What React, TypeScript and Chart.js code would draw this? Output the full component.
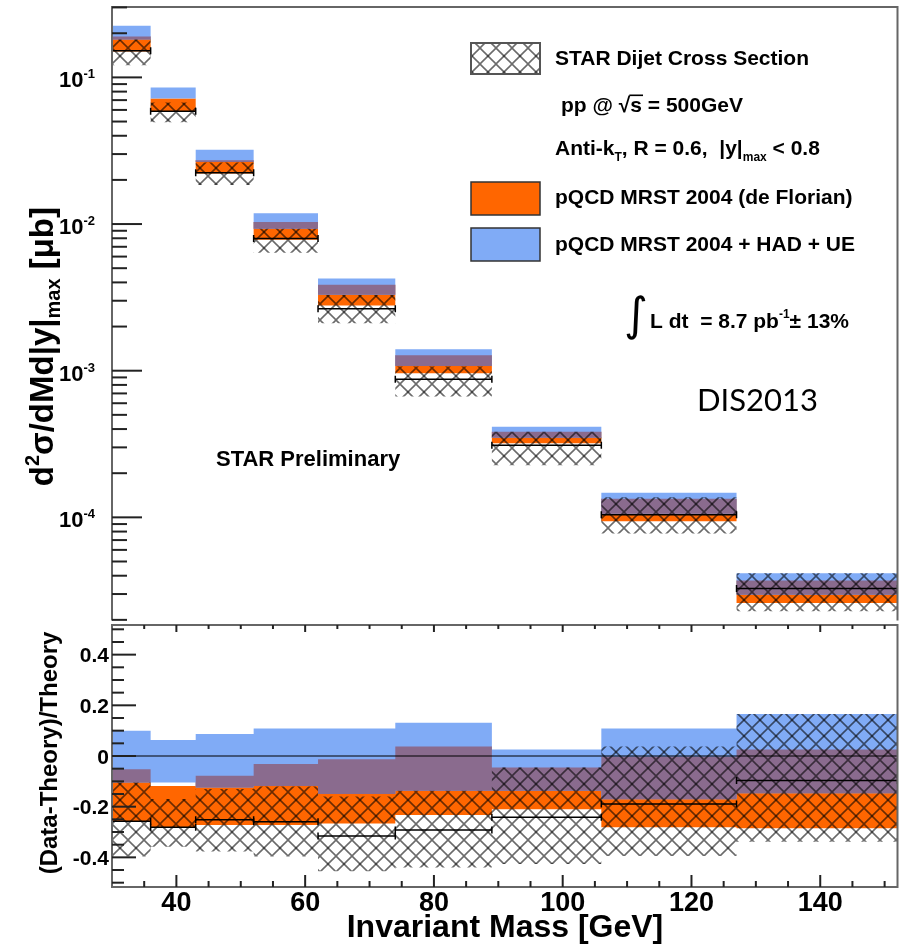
import React, { useEffect, useRef } from 'react';
import { Chart, registerables } from 'chart.js';

Chart.register(...registerables);

// ---------------- data ----------------
const binEdges = [30, 36, 43, 52, 62, 74, 89, 106, 127, 152];

// upper panel: d2sigma/dM d|y|max [ub]
const xsecData = [0.152, 0.0588, 0.0224, 0.00796, 0.00264, 0.000873, 0.00031, 0.0001042, 0.0000327];
const xsecSysLow = [0.121, 0.0494, 0.01845, 0.00637, 0.00211, 0.000667, 0.000227, 0.0000777, 0.0000229];
const xsecSysHigh = [0.181, 0.0674, 0.0263, 0.0093, 0.00328, 0.00107, 0.000383, 0.000137, 0.0000416];
const pqcdLow = [0.15, 0.0586, 0.0221, 0.00783, 0.00278, 0.000959, 0.00032, 0.000094, 0.0000261];
const pqcdHigh = [0.19, 0.0718, 0.0272, 0.01033, 0.00385, 0.001277, 0.000383, 0.0001337, 0.0000371];
const hadUeLow = [0.181, 0.0718, 0.0265, 0.00929, 0.0033, 0.001076, 0.000349, 0.0001059, 0.0000297];
const hadUeHigh = [0.225, 0.0852, 0.0321, 0.01186, 0.00425, 0.001402, 0.000414, 0.000147, 0.0000416];

// lower panel: (Data-Theory)/Theory
const ratioData = [-0.258, -0.281, -0.252, -0.259, -0.316, -0.292, -0.242, -0.189, -0.097];
const ratioSysLow = [-0.397, -0.358, -0.377, -0.397, -0.455, -0.44, -0.426, -0.395, -0.338];
const ratioSysHigh = [-0.105, -0.17, -0.13, -0.12, -0.16, -0.137, -0.045, 0.037, 0.166];
const ratioPqcdLow = [-0.259, -0.281, -0.272, -0.272, -0.266, -0.233, -0.21, -0.281, -0.285];
const ratioPqcdHigh = [-0.052, -0.118, -0.078, -0.032, -0.013, 0.037, -0.045, -0.003, 0.026];
const ratioHadUeLow = [-0.105, -0.105, -0.124, -0.118, -0.15, -0.137, -0.137, -0.171, -0.147];
const ratioHadUeHigh = [0.1, 0.063, 0.087, 0.109, 0.109, 0.131, 0.026, 0.109, 0.166];

// ticks
const xMajorTicks = [40, 60, 80, 100, 120, 140];
const xMajorLabels = ['40', '60', '80', '100', '120', '140'];
const logMajorTicks = [1e-1, 1e-2, 1e-3, 1e-4];
const logMajorExponents = ['-1', '-2', '-3', '-4'];
const ratioMajorTicks = [0.4, 0.2, 0, -0.2, -0.4];
const ratioMajorLabels = ['0.4', '0.2', '0', '-0.2', '-0.4'];

const X_MIN = 30;
const X_MAX = 152;
const LOG_MIN = 1.98e-5;
const LOG_MAX = 0.302;
const R_MIN = -0.517;
const R_MAX = 0.517;

// ---------------- styles ----------------
const F = '"Liberation Sans", Arial, Helvetica, sans-serif';
const ORANGE = '#ff6600';
const BLUE = '#80abf6';
const PURPLE = '#8a6b8e';
const FRAME = '#666666';
const TICK = '#222222';

function makeHatch(p = 16): CanvasPattern | string {
  const c = document.createElement('canvas');
  c.width = p;
  c.height = p;
  const g = c.getContext('2d');
  if (!g) return 'rgba(0,0,0,0.3)';
  g.strokeStyle = 'rgba(0,0,0,0.58)';
  g.lineWidth = 1.6;
  g.beginPath();
  g.moveTo(-2, -2);
  g.lineTo(p + 2, p + 2);
  g.stroke();
  g.beginPath();
  g.moveTo(p + 2, -2);
  g.lineTo(-2, p + 2);
  g.stroke();
  return g.createPattern(c, 'repeat') || 'rgba(0,0,0,0.3)';
}

function stepPoints(vals: number[]) {
  const pts = vals.map((v, i) => ({ x: binEdges[i], y: v }));
  pts.push({ x: binEdges[binEdges.length - 1], y: vals[vals.length - 1] });
  return pts;
}

function segPoints(vals: number[]) {
  const pts: { x: number; y: number | null }[] = [];
  vals.forEach((v, i) => {
    pts.push({ x: binEdges[i], y: v }, { x: binEdges[i + 1], y: v }, { x: binEdges[i + 1], y: null });
  });
  return pts;
}

function overlap(aLo: number[], aHi: number[], bLo: number[], bHi: number[]) {
  const lo = aLo.map((v, i) => Math.max(v, bLo[i]));
  const hi = aHi.map((v, i) => Math.max(lo[i], Math.min(v, bHi[i])));
  return [lo, hi];
}

function band(lo: number[], hi: number[], fillStyle: any, order: number) {
  const base = {
    stepped: true,
    borderColor: 'rgba(0,0,0,0)',
    borderWidth: 1,
    pointRadius: 0,
    order,
  };
  return [
    { ...base, data: stepPoints(lo), fill: false },
    { ...base, data: stepPoints(hi), fill: '-1', backgroundColor: fillStyle },
  ];
}

function dataLine(vals: number[]) {
  return {
    data: segPoints(vals),
    borderColor: '#000',
    borderWidth: 1.5,
    pointStyle: 'line',
    pointRotation: 90,
    pointRadius: 3.5,
    pointBorderColor: '#000',
    pointBorderWidth: 1.5,
    fill: false,
    spanGaps: false,
    order: 10,
  };
}

type Part = { t: string; size: number; dy?: number; font?: string; weight?: string };

function drawParts(ctx: CanvasRenderingContext2D, parts: Part[], x: number, y: number, align = 'left') {
  const fontOf = (p: Part) => `${p.weight || 'bold'} ${p.size}px ${p.font || F}`;
  const widths = parts.map((p) => {
    ctx.font = fontOf(p);
    return ctx.measureText(p.t).width;
  });
  const total = widths.reduce((a, b) => a + b, 0);
  let cx = align === 'left' ? x : align === 'right' ? x - total : x - total / 2;
  ctx.textAlign = 'left';
  ctx.textBaseline = 'alphabetic';
  const starts: number[] = [];
  parts.forEach((p, i) => {
    ctx.font = fontOf(p);
    starts.push(cx);
    ctx.fillText(p.t, cx, y + (p.dy || 0));
    cx += widths[i];
  });
  return { total, starts, widths };
}

function line(ctx: CanvasRenderingContext2D, x1: number, y1: number, x2: number, y2: number) {
  ctx.beginPath();
  ctx.moveTo(x1, y1);
  ctx.lineTo(x2, y2);
  ctx.stroke();
}

function makeTopDecor(hatch: any) {
  return {
    id: 'topDecor',
    afterDraw(chart: any) {
      const ctx: CanvasRenderingContext2D = chart.ctx;
      const { left, right, top, bottom } = chart.chartArea;
      const ys = chart.scales.y;
      ctx.save();
      // frame
      ctx.strokeStyle = FRAME;
      ctx.lineWidth = 2;
      ctx.beginPath();
      ctx.moveTo(left, bottom);
      ctx.lineTo(left, top);
      ctx.lineTo(right, top);
      ctx.lineTo(right, bottom);
      ctx.stroke();
      // log ticks (inside)
      ctx.strokeStyle = TICK;
      ctx.lineWidth = 2;
      for (let e = -6; e <= 0; e++) {
        for (let k = 1; k <= 9; k++) {
          const v = k * Math.pow(10, e);
          if (v < ys.min || v > ys.max) continue;
          const py = ys.getPixelForValue(v);
          line(ctx, left, py, left + (k === 1 ? 30 : 15), py);
        }
      }
      // tick labels 10^n
      ctx.fillStyle = '#000';
      logMajorTicks.forEach((v, i) => {
        const py = ys.getPixelForValue(v);
        ctx.font = `bold 13px ${F}`;
        const we = ctx.measureText(logMajorExponents[i]).width;
        const xr = 95;
        ctx.textAlign = 'right';
        ctx.textBaseline = 'alphabetic';
        ctx.font = `bold 22px ${F}`;
        ctx.fillText('10', xr - we, py + 10);
        ctx.textAlign = 'left';
        ctx.font = `bold 13px ${F}`;
        ctx.fillText(logMajorExponents[i], xr - we, py + 1);
      });
      // y title
      ctx.save();
      ctx.translate(53, 207);
      ctx.rotate(-Math.PI / 2);
      drawParts(
        ctx,
        [
          { t: 'd', size: 33 },
          { t: '2', size: 20, dy: -14 },
          { t: 'σ/dMd|y|', size: 33 },
          { t: 'max', size: 20, dy: 7 },
          { t: ' [μb]', size: 33 },
        ],
        0,
        0,
        'right'
      );
      ctx.restore();

      // legend
      const bx = 471;
      const bw = 69;
      // hatched swatch
      ctx.fillStyle = '#fff';
      ctx.fillRect(bx, 43, bw, 31);
      ctx.fillStyle = hatch;
      ctx.fillRect(bx, 43, bw, 31);
      ctx.strokeStyle = '#555';
      ctx.lineWidth = 2;
      ctx.strokeRect(bx, 43, bw, 31);
      // orange swatch
      ctx.fillStyle = ORANGE;
      ctx.fillRect(bx, 182, bw, 33);
      ctx.strokeStyle = '#333';
      ctx.lineWidth = 1.5;
      ctx.strokeRect(bx, 182, bw, 33);
      // blue swatch
      ctx.fillStyle = BLUE;
      ctx.fillRect(bx, 228, bw, 33);
      ctx.strokeRect(bx, 228, bw, 33);

      ctx.fillStyle = '#000';
      drawParts(ctx, [{ t: 'STAR Dijet Cross Section', size: 21 }], 555, 64.5);
      const pp = drawParts(
        ctx,
        [
          { t: 'pp @ ', size: 21 },
          { t: '√', size: 21 },
          { t: 's', size: 21 },
          { t: ' = 500GeV', size: 21 },
        ],
        561,
        111.5
      );
      ctx.fillRect(pp.starts[2] - 1, 111.5 - 17, pp.widths[2] + 2, 1.6);
      drawParts(
        ctx,
        [
          { t: 'Anti-k', size: 21 },
          { t: 'T', size: 12, dy: 6 },
          { t: ', R = 0.6,  |y|', size: 21 },
          { t: 'max', size: 12, dy: 6 },
          { t: ' < 0.8', size: 21 },
        ],
        555,
        155
      );
      drawParts(ctx, [{ t: 'pQCD MRST 2004 (de Florian)', size: 21 }], 555, 204);
      drawParts(ctx, [{ t: 'pQCD MRST 2004 + HAD + UE', size: 21 }], 555, 250.5);

      // integrated luminosity
      drawParts(ctx, [{ t: '∫', size: 46, weight: 'normal', font: '"DejaVu Sans", sans-serif' }], 624, 330);
      drawParts(
        ctx,
        [
          { t: 'L dt  = 8.7 pb', size: 21 },
          { t: '-1', size: 12, dy: -10 },
          { t: '± 13%', size: 21 },
        ],
        650,
        327.5
      );

      // DIS2013
      drawParts(ctx, [{ t: 'DIS2013', size: 31, weight: 'normal', font: 'Lato, "Open Sans", sans-serif' }], 697, 411);
      // STAR Preliminary
      drawParts(ctx, [{ t: 'STAR Preliminary', size: 22 }], 216, 466);
      ctx.restore();
    },
  };
}

const bottomDecor = {
  id: 'bottomDecor',
  afterDraw(chart: any) {
    const ctx: CanvasRenderingContext2D = chart.ctx;
    const { left, right, top, bottom } = chart.chartArea;
    const xs = chart.scales.x;
    const ys = chart.scales.y;
    ctx.save();
    ctx.strokeStyle = FRAME;
    ctx.lineWidth = 2;
    ctx.strokeRect(left, top, right - left, bottom - top);
    // y ticks
    ctx.strokeStyle = TICK;
    ctx.lineWidth = 2;
    for (let i = -10; i <= 10; i++) {
      const v = i * 0.05;
      if (v < ys.min || v > ys.max) continue;
      const py = ys.getPixelForValue(v);
      line(ctx, left, py, left + (i % 4 === 0 ? 24 : 12), py);
    }
    // x ticks
    for (let v = 35; v < X_MAX; v += 5) {
      const px = xs.getPixelForValue(v);
      const major = v % 20 === 0;
      line(ctx, px, bottom, px, bottom - (major ? 12 : 6));
      line(ctx, px, top, px, top + (major ? 7 : 4));
    }
    // labels
    ctx.fillStyle = '#000';
    ctx.font = `bold 21px ${F}`;
    ctx.textAlign = 'right';
    ctx.textBaseline = 'alphabetic';
    ratioMajorTicks.forEach((v, i) => {
      ctx.fillText(ratioMajorLabels[i], 109, ys.getPixelForValue(v) + 7.5);
    });
    ctx.font = `bold 27px ${F}`;
    ctx.textAlign = 'center';
    xMajorTicks.forEach((v, i) => {
      ctx.fillText(xMajorLabels[i], xs.getPixelForValue(v), 310.5);
    });
    // x title
    ctx.font = `bold 32px ${F}`;
    ctx.fillText('Invariant Mass [GeV]', 505, 337);
    // y title
    ctx.save();
    ctx.translate(57, 153);
    ctx.rotate(-Math.PI / 2);
    ctx.font = `bold 24px ${F}`;
    ctx.textAlign = 'center';
    ctx.fillText('(Data-Theory)/Theory', 0, 0);
    ctx.restore();
    ctx.restore();
  },
};

function baseOptions(yScale: any, padding: any) {
  return {
    responsive: false,
    maintainAspectRatio: false,
    animation: false as const,
    devicePixelRatio: 1,
    events: [] as any[],
    layout: { padding },
    plugins: {
      legend: { display: false },
      tooltip: { enabled: false },
      title: { display: false },
      filler: { propagate: false },
    },
    elements: { line: { tension: 0 } },
    scales: {
      x: { type: 'linear', min: X_MIN, max: X_MAX, bounds: 'data', display: false },
      y: yScale,
    },
  };
}

export default function App() {
  const topRef = useRef<HTMLCanvasElement>(null);
  const botRef = useRef<HTMLCanvasElement>(null);

  useEffect(() => {
    const hatch = makeHatch(16);

    const [pLo, pHi] = overlap(pqcdLow, pqcdHigh, hadUeLow, hadUeHigh);
    const topDatasets: any[] = [
      ...band(pqcdLow, pqcdHigh, ORANGE, 50),
      ...band(hadUeLow, hadUeHigh, BLUE, 40),
      ...band(pLo, pHi, PURPLE, 30),
      ...band(xsecSysLow, xsecSysHigh, hatch, 20),
      dataLine(xsecData),
    ];

    const [rLo, rHi] = overlap(ratioPqcdLow, ratioPqcdHigh, ratioHadUeLow, ratioHadUeHigh);
    const botDatasets: any[] = [
      ...band(ratioPqcdLow, ratioPqcdHigh, ORANGE, 50),
      ...band(ratioHadUeLow, ratioHadUeHigh, BLUE, 40),
      ...band(rLo, rHi, PURPLE, 30),
      ...band(ratioSysLow, ratioSysHigh, hatch, 20),
      dataLine(ratioData),
      {
        data: [
          { x: X_MIN, y: 0 },
          { x: X_MAX, y: 0 },
        ],
        borderColor: '#000',
        borderWidth: 1.2,
        pointRadius: 0,
        fill: false,
        order: 5,
      },
    ];

    const top = new Chart(topRef.current as HTMLCanvasElement, {
      type: 'line',
      data: { datasets: topDatasets },
      options: baseOptions(
        { type: 'logarithmic', min: LOG_MIN, max: LOG_MAX, bounds: 'data', display: false },
        { left: 112, right: 5, top: 7, bottom: 1 }
      ) as any,
      plugins: [makeTopDecor(hatch)],
    });

    const bot = new Chart(botRef.current as HTMLCanvasElement, {
      type: 'line',
      data: { datasets: botDatasets },
      options: baseOptions(
        { type: 'linear', min: R_MIN, max: R_MAX, bounds: 'data', display: false },
        { left: 112, right: 5, top: 25, bottom: 58 }
      ) as any,
      plugins: [bottomDecor],
    });

    return () => {
      top.destroy();
      bot.destroy();
    };
  }, []);

  return (
    <div style={{ position: 'absolute', left: 0, top: 0, width: 903, height: 945, background: '#fff' }}>
      <canvas
        ref={topRef}
        width={903}
        height={626}
        style={{ position: 'absolute', left: 0, top: 0, width: 903, height: 626 }}
      />
      <canvas
        ref={botRef}
        width={903}
        height={345}
        style={{ position: 'absolute', left: 0, top: 600, width: 903, height: 345 }}
      />
    </div>
  );
}
